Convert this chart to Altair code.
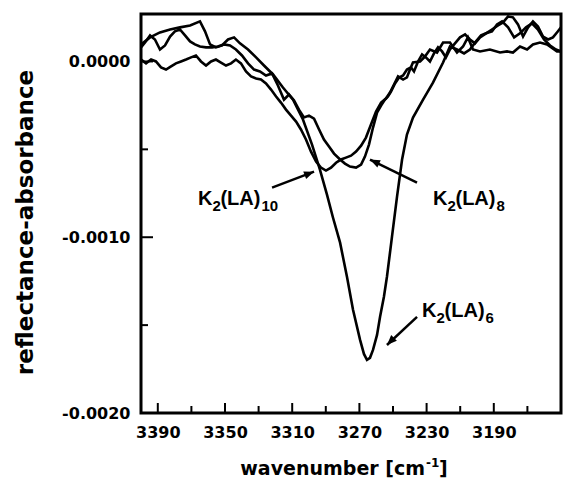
import altair as alt
import pandas as pd

# ---- data (absorbance values in units of 1e-4) ----
k6_wn = [3400.0, 3394.6, 3388.7, 3382.7, 3376.8, 3370.8, 3364.9, 3361.9, 3358.9, 3355.4,
         3351.8, 3348.2, 3344.6, 3341.1, 3336.3, 3331.5, 3326.8, 3321.4, 3315.5, 3309.5,
         3303.6, 3298.2, 3293.5, 3289.3, 3285.7, 3281.5, 3277.4, 3273.8, 3269.6, 3267.3,
         3265.5, 3263.7, 3261.9, 3259.5, 3257.7, 3255.4, 3253.6, 3250.6, 3247.6, 3244.6,
         3241.7, 3238.1, 3232.1, 3226.2, 3220.2, 3216.1, 3211.9, 3207.7, 3204.2, 3200.6,
         3197.6, 3194.6, 3191.1, 3188.1, 3185.1, 3181.5, 3177.9, 3174.4, 3170.8, 3167.3,
         3163.7, 3160.1, 3156.5, 3153.0, 3150.0]
k6_y = [0.97, 1.37, 1.65, 1.82, 1.94, 2.05, 2.28, 1.71, 0.97, 0.80,
        0.91, 1.25, 1.37, 1.03, 0.68, 0.23, -0.23, -0.74, -1.48, -2.17,
        -3.30, -4.73, -6.15, -7.58, -8.89, -10.31, -12.25, -14.13, -15.84, -16.64,
        -16.98, -16.86, -16.41, -15.56, -14.53, -13.39, -12.25, -9.97, -7.69, -5.58,
        -4.16, -3.19, -2.17, -1.20, -0.06, 0.85, 0.68, 0.46, 0.68, 1.14,
        1.48, 1.60, 1.71, 2.11, 2.28, 1.94, 1.37, 1.60, 1.94, 2.17,
        1.82, 1.25, 0.91, 0.68, 0.57]

k8_wn = [3400.0, 3397.6, 3394.6, 3391.7, 3388.7, 3385.7, 3382.7, 3379.8, 3376.8, 3373.8,
         3370.8, 3367.9, 3364.9, 3361.3, 3357.7, 3354.2, 3350.6, 3347.0, 3343.5, 3339.9,
         3336.3, 3332.7, 3329.2, 3325.6, 3322.0, 3318.5, 3314.9, 3311.9, 3308.9, 3306.0,
         3303.0, 3300.0, 3297.0, 3294.0, 3291.1, 3288.1, 3285.1, 3281.5, 3278.6, 3275.6,
         3272.0, 3269.0, 3266.7, 3264.3, 3261.9, 3259.5, 3257.1, 3254.8, 3253.0, 3251.2,
         3248.8, 3246.4, 3244.0, 3241.7, 3239.3, 3237.5, 3235.1, 3232.7, 3230.4, 3228.0,
         3225.6, 3223.2, 3220.8, 3218.5, 3216.1, 3213.1, 3210.1, 3207.1, 3204.2, 3201.2,
         3198.2, 3194.6, 3191.1, 3187.5, 3184.5, 3181.5, 3178.6, 3175.6, 3172.6, 3169.6,
         3166.7, 3163.7, 3160.7, 3157.7, 3154.8, 3152.4, 3150.0]
k8_y = [0.80, 1.08, 1.48, 1.25, 0.68, 0.91, 1.42, 1.71, 1.82, 1.48,
        1.14, 0.97, 0.85, 0.80, 0.80, 0.85, 0.97, 0.91, 0.68, 0.34,
        -0.11, -0.46, -0.57, -0.80, -0.68, -1.37, -2.17, -1.88, -2.22, -2.74,
        -3.19, -3.08, -3.25, -3.87, -4.44, -4.84, -5.24, -5.58, -5.81, -5.98,
        -6.04, -5.87, -5.41, -4.73, -3.76, -2.91, -2.51, -2.17, -1.99, -1.71,
        -1.25, -0.91, -0.80, -0.46, -0.34, -0.57, 0.00, 0.40, 0.23, 0.00,
        0.46, 0.80, 0.57, 0.23, 0.68, 1.03, 1.37, 1.54, 1.25, 1.03,
        1.37, 1.60, 1.82, 2.05, 2.22, 2.56, 2.51, 2.11, 1.42, 1.94,
        2.28, 1.99, 1.42, 1.25, 1.37, 1.65, 1.94]

k10_wn = [3400.0, 3397.0, 3394.0, 3391.1, 3388.1, 3385.1, 3382.1, 3379.2, 3376.2, 3373.2,
          3370.2, 3367.3, 3364.3, 3361.3, 3358.3, 3355.4, 3352.4, 3349.4, 3346.4, 3343.5,
          3340.5, 3337.5, 3334.5, 3331.5, 3328.6, 3325.6, 3322.6, 3319.6, 3316.7, 3313.7,
          3310.7, 3307.7, 3304.8, 3301.8, 3298.8, 3295.8, 3292.9, 3289.9, 3286.9, 3283.9,
          3281.0, 3278.0, 3275.0, 3272.0, 3269.0, 3266.1, 3263.1, 3260.1, 3257.1, 3254.2,
          3251.8, 3249.4, 3247.0, 3244.0, 3241.7, 3239.9, 3238.1, 3233.9, 3231.0, 3228.0,
          3223.8, 3220.2, 3216.1, 3211.9, 3208.3, 3205.4, 3202.4, 3198.2, 3192.3, 3186.3,
          3182.1, 3178.6, 3174.4, 3170.2, 3166.7, 3162.5, 3158.3, 3152.4, 3150.0]
k10_y = [0.11, -0.11, 0.11, 0.00, -0.34, -0.46, -0.28, -0.11, 0.00, 0.11,
         0.23, 0.34, 0.00, -0.23, 0.00, 0.11, -0.06, -0.23, -0.11, 0.11,
         -0.11, -0.57, -0.85, -0.97, -1.03, -1.25, -1.60, -1.99, -2.34, -2.74,
         -3.08, -3.42, -3.87, -4.44, -5.13, -5.70, -6.04, -6.21, -6.04, -5.76,
         -5.58, -5.47, -5.36, -5.13, -4.79, -4.33, -3.59, -2.85, -2.34, -2.11,
         -1.77, -1.31, -0.85, -1.03, -0.91, -0.46, -0.06, 0.00, 0.28, 0.68,
         0.51, 1.08, 1.08, 0.51, 0.85, 1.37, 0.68, 0.57, 0.68, 0.51,
         0.57, 0.51, 0.85, 0.68, 0.97, 1.08, 0.97, 0.57, 0.57]

x_label_ticks = [3390, 3350, 3310, 3270, 3230, 3190]
x_minor_ticks = [3370, 3330, 3290, 3250, 3210, 3170]
y_label_ticks = [0.0, -0.001, -0.002]
y_minor_ticks = [-0.0005, -0.0015]

# annotations
label_sub = ["10", "8", "6"]
label_wn = [3366.1, 3226.2, 3232.7]
label_y = [-8.15e-4, -8.15e-4, -14.53e-4]
arrow_tail_wn = [3322.0, 3235.7, 3235.7]
arrow_tail_y = [-7.18e-4, -6.89e-4, -14.53e-4]
arrow_tip_wn = [3297.0, 3263.7, 3253.6]
arrow_tip_y = [-6.27e-4, -5.58e-4, -16.13e-4]
arrow_angle = [69, 295, 225]

# ---- build tables ----
rows = []
for name, wns, ys in [("K2(LA)6", k6_wn, k6_y), ("K2(LA)8", k8_wn, k8_y), ("K2(LA)10", k10_wn, k10_y)]:
    for w, v in zip(wns, ys):
        rows.append({"series": name, "wn": w, "absorb": v * 1e-4})
df = pd.DataFrame(rows)

ann = pd.DataFrame({"wn": label_wn, "absorb": label_y, "sub": label_sub})
arrows = pd.DataFrame({"wn": arrow_tail_wn, "absorb": arrow_tail_y,
                       "tip_wn": arrow_tip_wn, "tip_y": arrow_tip_y, "angle": arrow_angle})

xscale = alt.Scale(domain=[3150, 3400], reverse=True, nice=False, zero=False)
yscale = alt.Scale(domain=[-0.002, 0.00027], nice=False, zero=False)

AX_FONT = "DejaVu Sans"
LBL_FONT = "Liberation Sans"

XAXIS = alt.Axis(
    values=x_label_ticks, format="d", title=None, tickSize=0, domain=False, grid=False,
    labelPadding=11, labelFont=AX_FONT, labelFontSize=16, labelFontWeight="bold",
    labelColor="black", labelFlush=False, labelOverlap=False)
YAXIS = alt.Axis(
    values=y_label_ticks,
    labelExpr="replace(format(datum.value, '.4f'), '\u2212', '-')",
    title="reflectance-absorbance", tickSize=0, domain=False, grid=False,
    labelPadding=11, labelFont=AX_FONT, labelFontSize=16, labelFontWeight="bold",
    labelColor="black", labelFlush=False, labelOverlap=False,
    titleFont=AX_FONT, titleFontSize=23, titleFontWeight="bold", titleColor="black",
    titleAngle=270, titleX=-116, titleY=208, titleAlign="center", titleBaseline="middle")


def X(field):
    return alt.X(field, scale=xscale, axis=XAXIS)


def Y(field):
    return alt.Y(field, scale=yscale, axis=YAXIS)


lines = alt.Chart(df).mark_line(color="black", strokeWidth=2.6, clip=True).encode(
    x=X("wn:Q"), y=Y("absorb:Q"), detail="series:N")

xt_major = alt.Chart(pd.DataFrame({"wn": x_label_ticks})).mark_rule(color="black", strokeWidth=2).encode(
    x=X("wn:Q"), y=alt.value(399), y2=alt.value(389))
xt_minor = alt.Chart(pd.DataFrame({"wn": x_minor_ticks})).mark_rule(color="black", strokeWidth=2).encode(
    x=X("wn:Q"), y=alt.value(399), y2=alt.value(392))
yt_major = alt.Chart(pd.DataFrame({"absorb": y_label_ticks[:2]})).mark_rule(color="black", strokeWidth=2).encode(
    y=Y("absorb:Q"), x=alt.value(0), x2=alt.value(12))
yt_minor = alt.Chart(pd.DataFrame({"absorb": y_minor_ticks})).mark_rule(color="black", strokeWidth=2).encode(
    y=Y("absorb:Q"), x=alt.value(0), x2=alt.value(7))

base_ann = alt.Chart(ann).encode(x=X("wn:Q"), y=Y("absorb:Q"))
t_k = base_ann.mark_text(align="left", baseline="alphabetic", font=LBL_FONT, fontSize=20,
                         fontWeight="bold", color="black").encode(text=alt.value("K"))
t_2 = base_ann.mark_text(align="left", baseline="alphabetic", font=LBL_FONT, fontSize=15,
                         fontWeight="bold", color="black", dx=14.5, dy=6).encode(text=alt.value("2"))
t_la = base_ann.mark_text(align="left", baseline="alphabetic", font=LBL_FONT, fontSize=20,
                          fontWeight="bold", color="black", dx=22.5).encode(text=alt.value("(LA)"))
t_sub = base_ann.mark_text(align="left", baseline="alphabetic", font=LBL_FONT, fontSize=15,
                           fontWeight="bold", color="black", dx=63.5, dy=6).encode(text="sub:N")

arrow_lines = alt.Chart(arrows).mark_rule(color="black", strokeWidth=2.5).encode(
    x=X("wn:Q"), x2="tip_wn:Q", y=Y("absorb:Q"), y2="tip_y:Q")
arrow_heads = alt.Chart(arrows).mark_point(
    shape="M0,0L0.8,2L-0.8,2Z", filled=True, size=100, color="black", opacity=1, strokeWidth=0
).encode(x=X("tip_wn:Q"), y=Y("tip_y:Q"), angle=alt.Angle("angle:Q", scale=None))

title_df = pd.DataFrame({"t": ["wavenumber [cm"]})
xt1 = alt.Chart(title_df).mark_text(align="right", baseline="alphabetic", font=AX_FONT, fontSize=19,
                                    fontWeight="bold", color="black").encode(
    x=alt.value(284), y=alt.value(461), text="t:N")
xt2 = alt.Chart(title_df).mark_text(align="left", baseline="alphabetic", font=AX_FONT, fontSize=12,
                                    fontWeight="bold", color="black").encode(
    x=alt.value(285), y=alt.value(453), text=alt.value("-1"))
xt3 = alt.Chart(title_df).mark_text(align="left", baseline="alphabetic", font=AX_FONT, fontSize=19,
                                    fontWeight="bold", color="black").encode(
    x=alt.value(298), y=alt.value(461), text=alt.value("]"))

chart = alt.layer(
    lines, xt_major, xt_minor, yt_major, yt_minor,
    arrow_lines, arrow_heads, t_k, t_2, t_la, t_sub, xt1, xt2, xt3
).properties(
    width=420, height=399,
    autosize=alt.AutoSizeParams(type="none"),
    padding={"left": 141, "top": 14, "right": 2, "bottom": 76},
    background="white",
).configure_view(stroke="black", strokeWidth=3)

chart.save("out.html", embed_options={"renderer": "svg", "actions": False})
